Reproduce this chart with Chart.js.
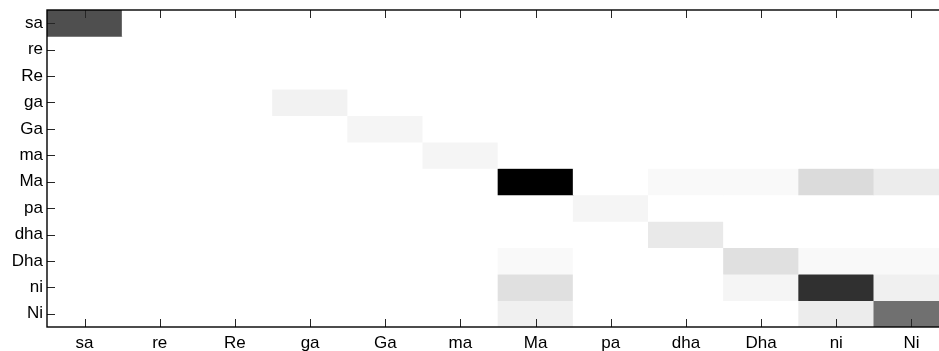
<!DOCTYPE html>
<html>
<head>
<meta charset="utf-8">
<script src="https://cdn.jsdelivr.net/npm/chart.js@4/dist/chart.umd.min.js"></script>
<style>
  html, body { margin: 0; padding: 0; background: #fff; overflow: hidden; }
  #wrap { width: 960px; height: 351px; }
</style>
</head>
<body>
<div id="wrap"><canvas id="heat" width="960" height="351"></canvas></div>
<script>
// ── DATA ───────────────────────────────────────────────────────
const rowLabels = ['sa', 're', 'Re', 'ga', 'Ga', 'ma', 'Ma', 'pa', 'dha', 'Dha', 'ni', 'Ni'];
const colLabels = ['sa', 're', 'Re', 'ga', 'Ga', 'ma', 'Ma', 'pa', 'dha', 'Dha', 'ni', 'Ni'];

// rows = true note, columns = predicted note (darker = larger)
const rowSa  = [69, 0, 0, 0, 0, 0, 0,   0, 0,   0,   0,   0];
const rowRe  = [0,  0, 0, 0, 0, 0, 0,   0, 0,   0,   0,   0];
const rowRe2 = [0,  0, 0, 0, 0, 0, 0,   0, 0,   0,   0,   0];
const rowGa  = [0,  0, 0, 5, 0, 0, 0,   0, 0,   0,   0,   0];
const rowGa2 = [0,  0, 0, 0, 4, 0, 0,   0, 0,   0,   0,   0];
const rowMa  = [0,  0, 0, 0, 0, 4, 0,   0, 0,   0,   0,   0];
const rowMa2 = [0,  0, 0, 0, 0, 0, 100, 0, 2.4, 2.4, 14,  7.5];
const rowPa  = [0,  0, 0, 0, 0, 0, 0,   4, 0,   0,   0,   0];
const rowDha = [0,  0, 0, 0, 0, 0, 0,   0, 8.6, 0,   0,   0];
const rowDha2= [0,  0, 0, 0, 0, 0, 2.4, 0, 0,   12,  2.4, 2.4];
const rowNi  = [0,  0, 0, 0, 0, 0, 12,  0, 0,   4,   81,  6];
const rowNi2 = [0,  0, 0, 0, 0, 0, 6,   0, 0,   0,   7.5, 56];

const matrix = [rowSa, rowRe, rowRe2, rowGa, rowGa2, rowMa, rowMa2, rowPa, rowDha, rowDha2, rowNi, rowNi2];
const maxVal = Math.max(...matrix.flat());

// inverted gray colormap: 0 -> white, max -> black
function grayFor(v) {
  const g = Math.round(255 * (1 - v / maxVal));
  return `rgb(${g},${g},${g})`;
}

// ── FRAME + INWARD TICKS (matlab-like box) ─────────────────────
const boxPlugin = {
  id: 'boxTicks',
  afterDatasetsDraw(chart) {
    const { ctx, chartArea: a, scales: { x, y } } = chart;
    const len = 8;
    ctx.save();
    ctx.strokeStyle = '#262626';
    ctx.lineWidth = 1;
    ctx.beginPath();
    colLabels.forEach((_, i) => {
      const px = Math.round(x.getPixelForTick(i)) + 0.5;
      ctx.moveTo(px, a.bottom); ctx.lineTo(px, a.bottom - len);
      ctx.moveTo(px, a.top);    ctx.lineTo(px, a.top + len);
    });
    rowLabels.forEach((_, i) => {
      const py = Math.round(y.getPixelForValue(i)) + 0.5;
      ctx.moveTo(a.left, py);  ctx.lineTo(a.left + len, py);
      ctx.moveTo(a.right, py); ctx.lineTo(a.right - len, py);
    });
    ctx.stroke();
    ctx.strokeStyle = '#000';
    ctx.lineWidth = 1.4;
    ctx.strokeRect(a.left, a.top, a.right - a.left, a.bottom - a.top);
    ctx.restore();
  },
};

// ── CHART ──────────────────────────────────────────────────────
const datasets = matrix.map((row, i) => ({
  label: rowLabels[i],
  data: colLabels.map(() => [i - 0.5, i + 0.5]),
  backgroundColor: row.map(grayFor),
  borderWidth: 0,
  barPercentage: 1,
  categoryPercentage: 1,
  grouped: false,
}));

const tickFont = { family: '"Liberation Sans", Arial, Helvetica, sans-serif', size: 17 };

new Chart(document.getElementById('heat').getContext('2d'), {
  type: 'bar',
  data: { labels: colLabels, datasets },
  options: {
    responsive: false,
    animation: false,
    events: [],
    layout: { padding: { top: 10, right: 11, left: 0, bottom: 0 } },
    plugins: { legend: { display: false }, tooltip: { enabled: false } },
    scales: {
      x: {
        type: 'category',
        offset: true,
        grid: { display: false, drawTicks: false },
        border: { display: false },
        ticks: { color: '#000', font: tickFont, padding: 6, maxRotation: 0, autoSkip: false },
        afterFit: s => { s.height = 24; s.paddingLeft = 0; s.paddingRight = 0; },
      },
      y: {
        type: 'linear',
        reverse: true,
        min: -0.5,
        max: rowLabels.length - 0.5,
        grid: { display: false, drawTicks: false },
        border: { display: false },
        afterBuildTicks: s => { s.ticks = rowLabels.map((_, i) => ({ value: i })); },
        ticks: {
          color: '#000', font: tickFont, padding: 4, autoSkip: false,
          callback: v => rowLabels[v],
        },
        afterFit: s => { s.width = 47; s.paddingTop = 0; s.paddingBottom = 0; },
      },
    },
  },
  plugins: [boxPlugin],
});
</script>
</body>
</html>
